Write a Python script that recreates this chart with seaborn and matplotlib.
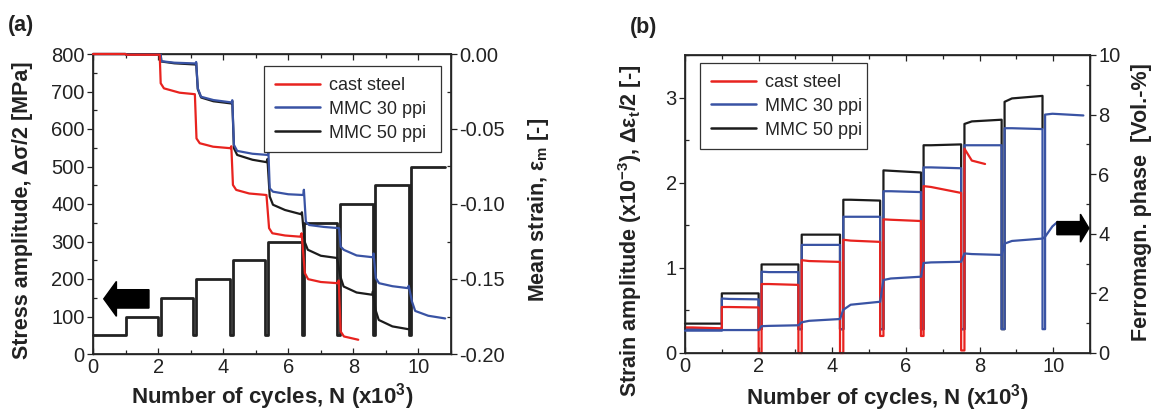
"""
Stress / strain response of cast steel and steel-MMC foams under step-wise loading.
"""

import matplotlib
matplotlib.use('Agg')
import matplotlib.pyplot as plt
import seaborn as sns
from matplotlib.ticker import MultipleLocator, FormatStrFormatter
from matplotlib.lines import Line2D

# ---- load blocks (N in 10^3 cycles) ----
block_start = [0.0, 1.0, 2.08, 3.17, 4.3, 5.39, 6.48, 7.59, 8.68, 9.78]
block_end = [1.0, 2.0, 3.08, 4.21, 5.3, 6.41, 7.5, 8.6, 9.71, 10.82]

# (a) stress amplitude steps [MPa]
stress_steps = [50, 100, 150, 200, 250, 300, 350, 400, 450, 500]
stress_between = 50

# (a) mean strain curves
cast_N = [0, 1.0, 1.02, 2.05, 2.08, 2.18, 2.66, 3.13, 3.18, 3.28, 3.69, 4.22, 4.25,
          4.3, 4.4, 4.8, 5.33, 5.41, 5.51, 5.9, 6.37, 6.41, 6.51, 6.61, 7.0, 7.52,
          7.55, 7.61, 7.71, 8.15]
cast_eps = [0, 0, -0.0005, -0.0005, -0.0195, -0.0229, -0.0258, -0.0268, -0.0563,
            -0.0595, -0.0618, -0.0628, -0.0615, -0.0873, -0.0906, -0.0930, -0.0940,
            -0.1161, -0.1195, -0.1210, -0.1218, -0.1195, -0.1461, -0.1501, -0.1520,
            -0.1528, -0.1510, -0.1850, -0.1883, -0.1905]

mmc30_N = [0, 1.0, 1.02, 2.08, 2.1, 2.5, 3.15, 3.17, 3.22, 3.32, 3.7, 4.26, 4.28,
           4.33, 4.43, 4.9, 5.37, 5.39, 5.43, 5.53, 6.0, 6.46, 6.48, 6.54, 6.64, 7.1,
           7.56, 7.61, 7.71, 8.1, 8.6, 8.62, 8.69, 8.79, 9.2, 9.68, 9.7, 9.8, 9.9,
           10.3, 10.82]
mmc30_eps = [0, 0, -0.0005, -0.0005, -0.0048, -0.0058, -0.0063, -0.0053, -0.0229,
             -0.0285, -0.0307, -0.0323, -0.0308, -0.0606, -0.0646, -0.0665, -0.0673,
             -0.0653, -0.0895, -0.0918, -0.0935, -0.0940, -0.0905, -0.1118, -0.1140,
             -0.1153, -0.1161, -0.1285, -0.1306, -0.1343, -0.1355, -0.1330, -0.1495,
             -0.1528, -0.1548, -0.1561, -0.1545, -0.1650, -0.1713, -0.1745, -0.1763]

mmc50_N = [0, 1.0, 1.02, 2.08, 2.1, 2.5, 3.15, 3.17, 3.22, 3.32, 3.7, 4.26, 4.28,
           4.33, 4.43, 4.9, 5.33, 5.36, 5.43, 5.53, 5.9, 6.39, 6.42, 6.5, 6.6, 7.0,
           7.5, 7.6, 7.7, 8.1, 8.58, 8.6, 8.68, 8.78, 9.2, 9.7]
mmc50_eps = [0, 0, -0.0005, -0.0005, -0.0050, -0.0062, -0.0070, -0.0060, -0.0235,
             -0.0290, -0.0315, -0.0330, -0.0315, -0.0628, -0.0673, -0.0705, -0.0721,
             -0.0700, -0.0950, -0.1005, -0.1040, -0.1068, -0.1055, -0.1250, -0.1305,
             -0.1345, -0.1360, -0.1483, -0.1550, -0.1590, -0.1605, -0.1583, -0.1705,
             -0.1773, -0.1816, -0.1835]

# (b) strain amplitude per block (x10^-3): start, early, end, value between blocks
cast_amp_start = [0.30, 0.54, 0.81, 1.09, 1.33, 1.57, 1.96, 2.40]
cast_amp_knee = [0.30, 0.54, 0.81, 1.08, 1.32, 1.565, 1.95, 2.26]
cast_amp_end = [0.29, 0.535, 0.80, 1.07, 1.305, 1.55, 1.88, 2.22]
cast_amp_gap = [0.29, 0.0, 0.0, 0.0, 0.20, 0.20, 0.03]
cast_last_cycle = 8.15

mmc30_amp_start = [0.28, 0.64, 0.955, 1.27, 1.60, 1.90, 2.18, 2.44, 2.64, 2.80]
mmc30_amp_knee = [0.28, 0.635, 0.95, 1.27, 1.60, 1.90, 2.18, 2.44, 2.64, 2.81]
mmc30_amp_end = [0.28, 0.63, 0.95, 1.27, 1.60, 1.89, 2.17, 2.44, 2.63, 2.79]
mmc30_amp_gap = [0.28, 0.28, 0.28, 0.28, 0.28, 0.28, 0.28, 0.28, 0.28]

mmc50_amp_start = [0.345, 0.70, 1.04, 1.39, 1.80, 2.145, 2.44, 2.69, 2.95]
mmc50_amp_knee = [0.345, 0.70, 1.04, 1.39, 1.80, 2.14, 2.44, 2.72, 2.99]
mmc50_amp_end = [0.345, 0.70, 1.04, 1.39, 1.79, 2.12, 2.45, 2.74, 3.02]
mmc50_amp_gap = [0.345, 0.28, 0.28, 0.28, 0.28, 0.28, 0.28, 0.28]
mmc50_amp_after = 2.64

# (b) ferromagnetic phase of MMC 30 ppi [Vol.-%]
ferro_start = [0.75, 0.77, 0.90, 1.03, 1.45, 2.45, 3.02, 3.34, 3.67, 3.90]
ferro_knee = [0.75, 0.77, 0.91, 1.08, 1.62, 2.50, 3.04, 3.32, 3.76, 4.25]
ferro_end = [0.75, 0.77, 0.93, 1.14, 1.72, 2.56, 3.06, 3.29, 3.84, 4.40]
ferro_last_cycle = 10.12

labels = ['cast steel', 'MMC 30 ppi', 'MMC 50 ppi']
colors = ['#e8231f', '#3953a4', '#1c1c1c']


def staircase(starts, ends, levels, between):
    """Step-wise load path with short unloading between blocks."""
    xs, ys = [], []
    n = len(levels)
    for i in range(n):
        xs += [starts[i], ends[i]]
        ys += [levels[i], levels[i]]
        if 1 <= i < n - 1:
            xs += [ends[i], starts[i + 1]]
            ys += [between, between]
    return xs, ys


def block_curve(starts, ends, v0, vk, v1, gaps=None, last=None, knee_dt=0.2):
    """Piecewise curve through the start / early / end value of every block."""
    xs, ys = [], []
    n = len(v0)
    for i in range(n):
        e = ends[i] if (last is None or i < n - 1) else last
        xs += [starts[i], starts[i] + knee_dt, e]
        ys += [v0[i], vk[i], v1[i]]
        if gaps is not None and i < n - 1:
            xs += [e, starts[i + 1]]
            ys += [gaps[i], gaps[i]]
    return xs, ys


def line(ax, x, y, color, lw=1.6):
    sns.lineplot(x=x, y=y, ax=ax, color=color, lw=lw, sort=False,
                 estimator=None, legend=False, zorder=3, clip_on=False)


def style_y(ax, side):
    ax.tick_params(axis='y', which='major', direction='out', length=4, width=0.9,
                   labelsize=14.5, pad=2, colors='#222222',
                   left=(side == 'left'), right=(side == 'right'),
                   labelleft=(side == 'left'), labelright=(side == 'right'))
    ax.tick_params(axis='y', which='minor', direction='in', length=3, width=0.9,
                   left=(side == 'left'), right=(side == 'right'))


def style_x(ax):
    ax.set_xlim(0, 11)
    ax.xaxis.set_major_locator(MultipleLocator(2))
    ax.xaxis.set_minor_locator(MultipleLocator(1))
    ax.tick_params(axis='x', which='both', direction='in', top=True, bottom=True,
                   width=0.9, labelsize=14.5, pad=3, colors='#222222')
    ax.tick_params(axis='x', which='major', length=4)
    ax.tick_params(axis='x', which='minor', length=3)
    for sp in ax.spines.values():
        sp.set_linewidth(1.0)
        sp.set_color('#222222')


def add_legend(ax, anchor):
    handles = [Line2D([0], [0], color=c, lw=1.8) for c in colors]
    leg = ax.legend(handles, labels, loc='upper left', bbox_to_anchor=anchor,
                    mode='expand', borderaxespad=0, fontsize=13, frameon=True,
                    fancybox=False, edgecolor='#333333', framealpha=1,
                    handlelength=2.5, handletextpad=0.5, labelspacing=0.38,
                    borderpad=0.6)
    leg.get_frame().set_linewidth(0.9)
    leg.set_zorder(10)


sns.set_theme(style='ticks')
plt.rcParams['font.family'] = ['Liberation Sans', 'DejaVu Sans']
plt.rcParams['mathtext.fontset'] = 'custom'
plt.rcParams['mathtext.rm'] = 'Liberation Sans'
plt.rcParams['mathtext.it'] = 'Liberation Sans:italic'
plt.rcParams['mathtext.bf'] = 'Liberation Sans:bold'
plt.rcParams['mathtext.default'] = 'regular'

fig = plt.figure(figsize=(11.58, 4.12), dpi=100)
W, H = 1158, 412

xlabel_kw = dict(fontsize=16, fontweight='bold', color='#222222', va='center')
ylabel_kw = dict(fontsize=15.5, fontweight='bold', color='#222222', va='center')

# ---------------- (a) ----------------
ax1 = fig.add_axes([93 / W, 1 - 354 / H, 358 / W, 300 / H])
xs, ys = staircase(block_start, block_end, stress_steps, stress_between)
line(ax1, xs, ys, '#222222', lw=2.0)
ax1.arrow(1.72, 147, -1.39, 0, width=49, head_width=93, head_length=0.39,
          length_includes_head=True, color='black', zorder=5)
style_x(ax1)
ax1.set_ylim(0, 800)
ax1.yaxis.set_major_locator(MultipleLocator(100))
ax1.yaxis.set_minor_locator(MultipleLocator(50))
style_y(ax1, 'left')
ax1.set_xlabel('Number of cycles, N (x10$^{3}$)', **xlabel_kw)
ax1.xaxis.set_label_coords(0.5, -0.143)
ax1.set_ylabel('Stress amplitude, Δσ/2 [MPa]', **ylabel_kw)
ax1.yaxis.set_label_coords(-0.197, 0.48)

ax2 = ax1.twinx()
line(ax2, mmc50_N, mmc50_eps, colors[2])
line(ax2, mmc30_N, mmc30_eps, colors[1])
line(ax2, cast_N, cast_eps, colors[0])
ax2.set_ylim(-0.2, 0.0)
ax2.yaxis.set_major_locator(MultipleLocator(0.05))
ax2.yaxis.set_minor_locator(MultipleLocator(0.025))
ax2.yaxis.set_major_formatter(FormatStrFormatter('%.2f'))
style_y(ax2, 'right')
ax2.set_ylabel('Mean strain, ε$_{m}$ [-]', **ylabel_kw)
ax2.yaxis.set_label_coords(1.245, 0.48)
add_legend(ax2, (0.478, 0.96, 0.494, 0.0))

# ---------------- (b) ----------------
ax3 = fig.add_axes([685 / W, 1 - 353 / H, 405 / W, 298 / H])
xs, ys = block_curve(block_start, block_end, mmc50_amp_start, mmc50_amp_knee,
                     mmc50_amp_end, mmc50_amp_gap)
xs.append(block_end[len(mmc50_amp_end) - 1])
ys.append(mmc50_amp_after)
line(ax3, xs, ys, colors[2])
xs, ys = block_curve(block_start, block_end, mmc30_amp_start, mmc30_amp_knee,
                     mmc30_amp_end, mmc30_amp_gap)
line(ax3, xs, ys, colors[1])
xs, ys = block_curve(block_start, block_end, cast_amp_start, cast_amp_knee,
                     cast_amp_end, cast_amp_gap, last=cast_last_cycle)
line(ax3, xs, ys, colors[0])
style_x(ax3)
ax3.set_ylim(0, 3.5)
ax3.yaxis.set_major_locator(MultipleLocator(1))
ax3.yaxis.set_minor_locator(MultipleLocator(0.5))
style_y(ax3, 'left')
ax3.set_xlabel('Number of cycles, N (x10$^{3}$)', **xlabel_kw)
ax3.xaxis.set_label_coords(0.5, -0.148)
ax3.set_ylabel('Strain amplitude (x10$^{-3}$), Δε$_{t}$/2 [-]', **ylabel_kw)
ax3.yaxis.set_label_coords(-0.136, 0.41)

ax4 = ax3.twinx()
xs, ys = block_curve(block_start, block_end, ferro_start, ferro_knee, ferro_end,
                     last=ferro_last_cycle)
line(ax4, xs, ys, colors[1])
ax4.arrow(10.1, 4.19, 0.87, 0, width=0.44, head_width=0.94, head_length=0.23,
          length_includes_head=True, color='black', zorder=5, clip_on=False)
ax4.set_ylim(0, 10)
ax4.yaxis.set_major_locator(MultipleLocator(2))
ax4.yaxis.set_minor_locator(MultipleLocator(1))
style_y(ax4, 'right')
ax4.set_ylabel('Ferromagn. phase  [Vol.-%]', **ylabel_kw)
ax4.yaxis.set_label_coords(1.126, 0.507)
add_legend(ax4, (0.037, 0.973, 0.412, 0.0))

fig.text(21 / W, 1 - 25 / H, '(a)', fontsize=15.5, fontweight='bold',
         ha='center', va='center', color='#222222')
fig.text(644 / W, 1 - 27 / H, '(b)', fontsize=15.5, fontweight='bold',
         ha='center', va='center', color='#222222')

fig.savefig('out.png', dpi=100)
plt.close(fig)
